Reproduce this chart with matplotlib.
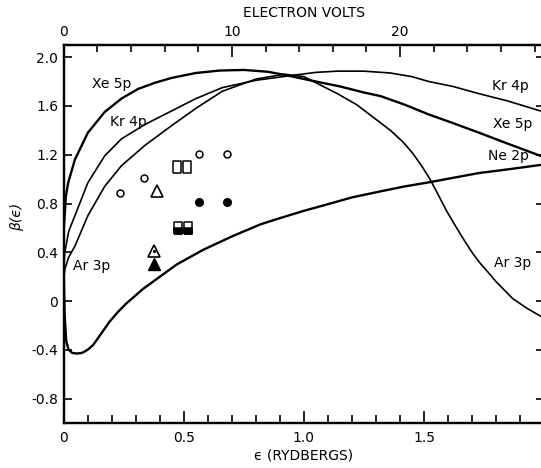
import numpy as np
import matplotlib
matplotlib.use("Agg")
import matplotlib.pyplot as plt
from matplotlib.ticker import MultipleLocator

# curves: x in Rydbergs, beta values
xe_x = [0, 0.005, 0.008, 0.018, 0.046, 0.10, 0.17, 0.24, 0.31, 0.38, 0.45, 0.55, 0.65,
        0.75, 0.85, 0.93, 1.05, 1.15, 1.25, 1.32, 1.42, 1.52, 1.62, 1.73, 1.85, 2.0]
xe_y = [0.6, 0.75, 0.85, 0.97, 1.16, 1.38, 1.55, 1.66, 1.74, 1.79, 1.83, 1.87, 1.89,
        1.895, 1.88, 1.85, 1.80, 1.76, 1.71, 1.68, 1.61, 1.53, 1.46, 1.38, 1.29, 1.18]

kr_x = [0, 0.004, 0.02, 0.046, 0.10, 0.17, 0.24, 0.34, 0.45, 0.55, 0.66, 0.80, 0.95,
        1.05, 1.14, 1.25, 1.36, 1.45, 1.52, 1.62, 1.73, 1.85, 2.0]
kr_y = [0.28, 0.40, 0.57, 0.70, 0.97, 1.19, 1.33, 1.45, 1.56, 1.66, 1.75, 1.81, 1.85,
        1.875, 1.885, 1.885, 1.87, 1.84, 1.80, 1.76, 1.70, 1.64, 1.55]

ar_x = [0, 0.004, 0.02, 0.046, 0.10, 0.17, 0.24, 0.34, 0.45, 0.55, 0.66, 0.80, 0.92,
        1.0, 1.14, 1.22, 1.30, 1.36, 1.41, 1.45, 1.49, 1.525, 1.56, 1.594, 1.63, 1.664,
        1.70, 1.73, 1.77, 1.80, 1.87, 1.93, 2.0]
ar_y = [0.18, 0.26, 0.36, 0.45, 0.70, 0.94, 1.11, 1.28, 1.44, 1.58, 1.72, 1.82, 1.86,
        1.84, 1.70, 1.61, 1.49, 1.40, 1.31, 1.22, 1.11, 1.00, 0.87, 0.74, 0.62, 0.51,
        0.40, 0.32, 0.23, 0.16, 0.02, -0.06, -0.14]

ne_x = [0, 0.003, 0.01, 0.02, 0.035, 0.054, 0.075, 0.09, 0.105, 0.122, 0.14, 0.165, 0.19,
        0.225, 0.26, 0.33, 0.40, 0.47, 0.58, 0.70, 0.82, 0.90, 1.0, 1.11, 1.2, 1.32, 1.42,
        1.525, 1.62, 1.73, 1.85, 2.0]
ne_y = [0.2, -0.1, -0.33, -0.40, -0.425, -0.43, -0.425, -0.41, -0.39, -0.36, -0.31, -0.24,
        -0.17, -0.09, -0.02, 0.10, 0.20, 0.30, 0.42, 0.53, 0.63, 0.68, 0.74, 0.80, 0.85,
        0.90, 0.94, 0.975, 1.01, 1.05, 1.08, 1.12]

# experimental points
open_circ_x = [0.236, 0.335, 0.5625, 0.678]
open_circ_y = [0.89, 1.005, 1.205, 1.205]
fill_circ_x = [0.5625, 0.678]
fill_circ_y = [0.81, 0.81]
open_rect_x = [0.472, 0.515]
open_rect_y = [1.096, 1.096]
half_rect_x = [0.474, 0.518]
half_rect_y = [0.60, 0.60]
open_tri_x = [0.386]
open_tri_y = [0.906]
dot_tri_x = [0.376]
dot_tri_y = [0.41]
fill_tri_x = [0.376]
fill_tri_y = [0.30]

EV_PER_RYD = 14.28

fig = plt.figure(figsize=(5.41, 4.68), dpi=100)
ax = fig.add_axes([0.118, 0.096, 0.8875, 0.808])

thick = 1.7
thin = 1.2
ax.plot(xe_x, xe_y, color='black', lw=thick)
ax.plot(kr_x, kr_y, color='black', lw=thin)
ax.plot(ar_x, ar_y, color='black', lw=thin)
ax.plot(ne_x, ne_y, color='black', lw=thick)

# markers
rect = [(-0.33, -0.5), (0.33, -0.5), (0.33, 0.5), (-0.33, 0.5), (-0.33, -0.5)]
half = [(-0.33, -0.5), (0.33, -0.5), (0.33, 0.0), (-0.33, 0.0), (-0.33, -0.5)]
ax.plot(open_circ_x, open_circ_y, 'o', ms=5, mfc='white', mec='black', mew=1.1)
ax.plot(fill_circ_x, fill_circ_y, 'o', ms=5.5, color='black')
ax.plot(open_rect_x, open_rect_y, ls='none', marker=rect, ms=8.5, mfc='white', mec='black', mew=1.1)
ax.plot(half_rect_x, half_rect_y, ls='none', marker=rect, ms=8.5, mfc='white', mec='black', mew=1.1)
ax.plot(half_rect_x, half_rect_y, ls='none', marker=half, ms=8.5, mfc='black', mec='black', mew=1.1)
ax.plot(open_tri_x, open_tri_y, '^', ms=8, mfc='white', mec='black', mew=1.2)
ax.plot(dot_tri_x, dot_tri_y, '^', ms=8, mfc='white', mec='black', mew=1.2)
ax.plot(dot_tri_x, dot_tri_y, '.', ms=2.5, color='black')
ax.plot(fill_tri_x, fill_tri_y, '^', ms=8.5, color='black')

# curve labels
fs = 10
ax.text(0.20, 1.78, 'Xe 5p', fontsize=fs, ha='center', va='center')
ax.text(0.27, 1.47, 'Kr 4p', fontsize=fs, ha='center', va='center')
ax.text(0.04, 0.29, 'Ar 3p', fontsize=fs, ha='left', va='center')
ax.text(1.86, 1.76, 'Kr 4p', fontsize=fs, ha='center', va='center')
ax.text(1.87, 1.45, 'Xe 5p', fontsize=fs, ha='center', va='center')
ax.text(1.85, 1.19, 'Ne 2p', fontsize=fs, ha='center', va='center')
ax.text(1.87, 0.31, 'Ar 3p', fontsize=fs, ha='center', va='center')

ax.set_xlim(0, 2.0)
ax.set_ylim(-1.0, 2.1)

yt = [-0.8, -0.4, 0, 0.4, 0.8, 1.2, 1.6, 2.0]
ax.set_yticks(yt)
ax.set_yticklabels(['-0.8', '-0.4', '0', '0.4', '0.8', '1.2', '1.6', '2.0'])
ax.set_xticks([0, 0.5, 1.0, 1.5])
ax.set_xticklabels(['0', '0.5', '1.0', '1.5'])
ax.xaxis.set_minor_locator(MultipleLocator(0.1))

ax.tick_params(axis='x', which='major', direction='in', length=8.5, width=1.2,
               labelsize=10, pad=6)
ax.tick_params(axis='x', which='minor', direction='in', length=5.5, width=1.2)
ax.tick_params(axis='y', which='major', direction='in', length=5.5, width=1.2,
               labelsize=10, right=True, pad=4)

for s in ax.spines.values():
    s.set_linewidth(1.6)

ax.set_xlabel('ϵ (RYDBERGS)', fontsize=10, labelpad=2)
ax.text(-0.098, 0.545, 'β(ϵ)', transform=ax.transAxes, rotation=90,
        fontsize=10, ha='center', va='center', style='italic')

ax2 = ax.twiny()
ax2.set_xlim(0, 2.0 * EV_PER_RYD)
ax2.set_xticks([0, 10, 20])
ax2.xaxis.set_minor_locator(MultipleLocator(2))
ax2.tick_params(axis='x', which='major', direction='in', length=8.5, width=1.2,
                labelsize=10, pad=4)
ax2.tick_params(axis='x', which='minor', direction='in', length=5, width=1.2)
ax2.set_xlabel('ELECTRON VOLTS', fontsize=10, labelpad=6)
for s in ax2.spines.values():
    s.set_linewidth(1.6)

fig.savefig('out.png', dpi=100)
